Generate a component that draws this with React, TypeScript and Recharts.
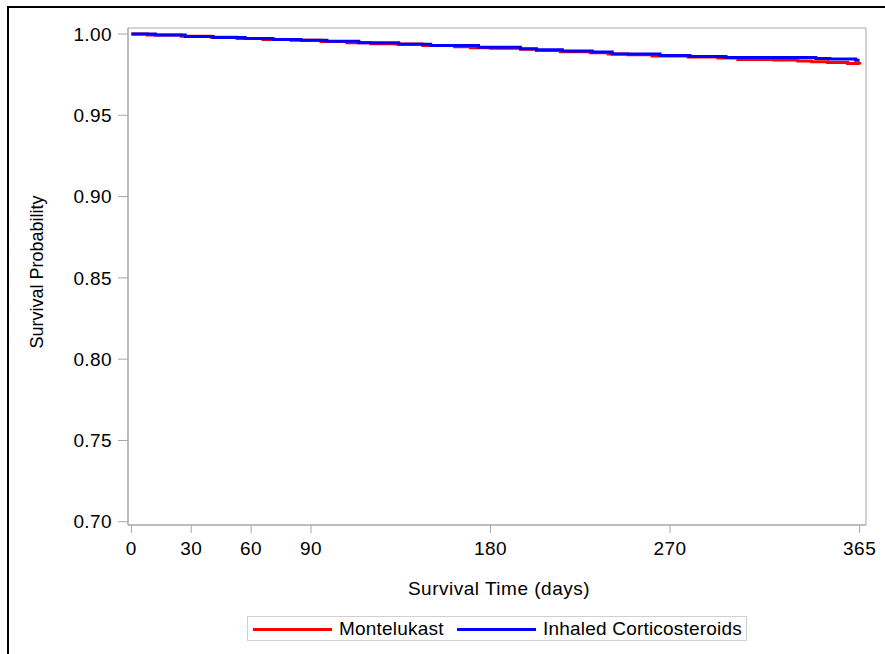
import React from "react";
import { LineChart, Line, XAxis, YAxis, ReferenceArea } from "recharts";

const xTicks = [0, 30, 60, 90, 180, 270, 365];
const yTicks = [0.7, 0.75, 0.8, 0.85, 0.9, 0.95, 1.0];
const seriesNames = ["Montelukast", "Inhaled Corticosteroids"];
const seriesColors = ["#ff0000", "#0000ff"];

const montelukastDays = [0, 8, 25, 40, 53, 66, 80, 95, 108, 120, 132, 146, 162, 170, 180, 195, 203, 215, 230, 239, 249, 261, 279, 294, 304, 322, 334, 341, 349, 359, 365];
const montelukastSurv = [1.0, 0.9994, 0.9986, 0.998, 0.9973, 0.9967, 0.9961, 0.9954, 0.9946, 0.994, 0.9938, 0.993, 0.9922, 0.9916, 0.9913, 0.9906, 0.9898, 0.9891, 0.9884, 0.9877, 0.9873, 0.9865, 0.9858, 0.9852, 0.9844, 0.984, 0.9834, 0.983, 0.9825, 0.9819, 0.9813];

const icsDays = [0, 12, 27, 41, 57, 71, 85, 98, 114, 134, 150, 174, 195, 203, 216, 231, 241, 265, 280, 298, 343, 350, 363, 365];
const icsSurv = [1.0, 0.9994, 0.9985, 0.9979, 0.9973, 0.9967, 0.9961, 0.9955, 0.9946, 0.9937, 0.9929, 0.9919, 0.991, 0.9903, 0.9896, 0.9889, 0.9877, 0.9868, 0.9862, 0.9856, 0.985, 0.9846, 0.9838, 0.9838];

const xDomain = [-1.7, 368.2];
const yDomain = [0.698, 1.0037];

const montelukastData = montelukastDays.map((t, i) => ({ t, s: montelukastSurv[i] }));
const icsData = icsDays.map((t, i) => ({ t, s: icsSurv[i] }));

const FONT = "'Liberation Sans', Arial, sans-serif";
const AXIS = "#a6a6a6";

const legendItems = [
  { lineLeft: 253, textLeft: 339 },
  { lineLeft: 457, textLeft: 543 },
];

export default function App() {
  return (
    <div
      style={{
        position: "absolute",
        left: 0,
        top: 0,
        width: 885,
        height: 654,
        overflow: "hidden",
        background: "#fff",
        fontFamily: FONT,
      }}
    >
      <div
        style={{
          position: "absolute",
          left: 7,
          top: 6,
          width: 1000,
          height: 1000,
          borderLeft: "2px solid #000",
          borderTop: "2px solid #000",
        }}
      />
      <div style={{ position: "absolute", left: 0, top: 0 }}>
        <LineChart
          width={885}
          height={654}
          data={icsData}
          margin={{ top: 28, right: 19, bottom: 99, left: 68 }}
        >
          <XAxis
            dataKey="t"
            type="number"
            domain={xDomain}
            allowDataOverflow
            ticks={xTicks}
            height={30}
            axisLine={{ stroke: AXIS }}
            tickLine={{ stroke: AXIS }}
            tickSize={8}
            tickMargin={9}
            tick={{ fill: "#000", fontSize: 19, fontFamily: FONT, letterSpacing: 0.5 }}
          />
          <YAxis
            type="number"
            domain={yDomain}
            allowDataOverflow
            ticks={yTicks}
            width={60}
            axisLine={{ stroke: AXIS }}
            tickLine={{ stroke: AXIS }}
            tickSize={10}
            tickMargin={6}
            tickFormatter={(v: number) => v.toFixed(2)}
            tick={{ fill: "#000", fontSize: 19, fontFamily: FONT, letterSpacing: 0.4 }}
          />
          <ReferenceArea
            x1={xDomain[0]}
            x2={xDomain[1]}
            y1={yDomain[0]}
            y2={yDomain[1]}
            fill="none"
            stroke={AXIS}
            strokeWidth={1}
          />
          <Line
            data={montelukastData}
            dataKey="s"
            type="stepAfter"
            stroke={seriesColors[0]}
            strokeWidth={3}
            dot={false}
            isAnimationActive={false}
          />
          <Line
            data={icsData}
            dataKey="s"
            type="stepAfter"
            stroke={seriesColors[1]}
            strokeWidth={3}
            dot={false}
            isAnimationActive={false}
          />
        </LineChart>
      </div>
      <div
        style={{
          position: "absolute",
          left: 37,
          top: 272,
          transform: "translate(-50%, -50%) rotate(-90deg)",
          fontSize: 18,
          whiteSpace: "nowrap",
          color: "#000",
        }}
      >
        Survival Probability
      </div>
      <div
        style={{
          position: "absolute",
          left: 499,
          top: 589,
          transform: "translate(-50%, -50%)",
          fontSize: 19,
          letterSpacing: 0.5,
          whiteSpace: "nowrap",
          color: "#000",
        }}
      >
        Survival Time (days)
      </div>
      <div
        style={{
          position: "absolute",
          left: 247,
          top: 616,
          width: 498,
          height: 23,
          border: "1px solid #cfcfcf",
        }}
      />
      {seriesNames.map((name, i) => (
        <React.Fragment key={name}>
          <div
            style={{
              position: "absolute",
              left: legendItems[i].lineLeft,
              top: 628,
              width: 79,
              height: 3,
              background: seriesColors[i],
            }}
          />
          <div
            style={{
              position: "absolute",
              left: legendItems[i].textLeft,
              top: 629,
              transform: "translateY(-50%)",
              fontSize: 19,
              letterSpacing: 0.2,
              whiteSpace: "nowrap",
              color: "#000",
              lineHeight: "22px",
            }}
          >
            {name}
          </div>
        </React.Fragment>
      ))}
    </div>
  );
}
